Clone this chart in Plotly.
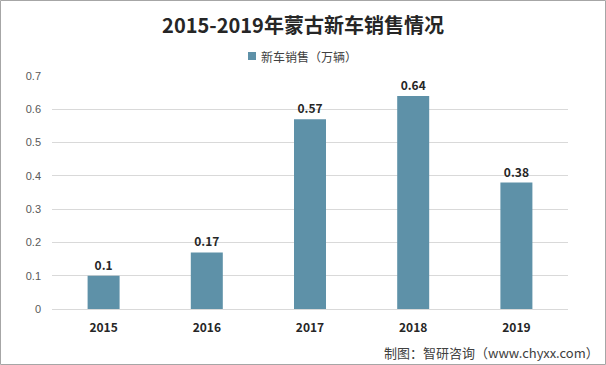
import plotly.graph_objects as go

years = ["2015", "2016", "2017", "2018", "2019"]
sales = [0.1, 0.17, 0.57, 0.64, 0.38]
series_name = "新车销售（万辆）"
title_text = "2015-2019年蒙古新车销售情况"
source_text = "制图：智研咨询（www.chyxx.com）"
y_ticks = [0, 0.1, 0.2, 0.3, 0.4, 0.5, 0.6, 0.7]

W, H = 606, 365
ml, mr, mt, mb = 52, 38, 76, 56
pw, ph = W - ml - mr, H - mt - mb
bar_color = "#5E91A8"

def px_x(x):
    return (x - ml) / pw

def px_y(y):
    return (H - mb - y) / ph

fig = go.Figure()
fig.add_trace(go.Bar(
    x=years, y=sales, name=series_name,
    marker=dict(color=bar_color, line=dict(width=0)),
    text=[f"{v:g}" for v in sales], textposition="outside",
    textfont=dict(family="Noto Sans CJK SC", size=12, color="#262626"),
    texttemplate="<b>%{text}</b>", cliponaxis=False,
))

fig.update_layout(
    width=W, height=H,
    margin=dict(l=ml, r=mr, t=mt, b=mb),
    paper_bgcolor="white", plot_bgcolor="white",
    bargap=0.69,
    showlegend=False,
    hovermode=False,
    title=dict(text="<b>" + title_text + "</b>", x=0.5, xanchor="center", y=1 - 26 / H, yanchor="middle",
               font=dict(family="Noto Sans CJK SC", size=20, color="#262626")),
    xaxis=dict(type="category", showgrid=False, showline=True, linecolor="#D9D9D9", linewidth=1,
               ticks="", ticklabelstandoff=8,
               tickfont=dict(family="Noto Sans CJK SC", size=12, color="#262626"),
               tickprefix="<b>", ticksuffix="</b>"),
    yaxis=dict(range=[0, 0.7], tickvals=y_ticks, ticktext=[f"{v:g}" for v in y_ticks],
               showgrid=True, gridcolor="#D9D9D9", gridwidth=1, zeroline=False, showline=False,
               ticks="", ticklabelstandoff=10,
               tickfont=dict(family="Liberation Sans", size=11, color="#595959")),
    shapes=[
        dict(type="rect", xref="paper", yref="paper",
             x0=px_x(0.5), x1=px_x(W - 0.5), y0=px_y(H - 0.5), y1=px_y(0.5),
             line=dict(color="#A6A6A6", width=1), fillcolor="rgba(0,0,0,0)"),
        dict(type="rect", xref="paper", yref="paper",
             x0=px_x(248), x1=px_x(256), y0=px_y(60), y1=px_y(52),
             line=dict(width=0), fillcolor=bar_color),
    ],
    annotations=[
        dict(text=series_name, xref="paper", yref="paper",
             x=px_x(259), xanchor="left", y=px_y(56), yanchor="middle", showarrow=False,
             font=dict(family="Noto Sans CJK SC", size=12, color="#404040")),
        dict(text=source_text, xref="paper", yref="paper",
             x=px_x(601), xanchor="right", y=px_y(352), yanchor="middle", showarrow=False,
             font=dict(family="Noto Sans CJK SC", size=13, color="#404040")),
    ],
)

fig.write_html("out.html", config={"displayModeBar": False})
with open("out.html", encoding="utf-8") as f:
    html = f.read()
html = html.replace("<head>", "<head><style>html,body{margin:0;padding:0;}</style>", 1)
with open("out.html", "w", encoding="utf-8") as f:
    f.write(html)
